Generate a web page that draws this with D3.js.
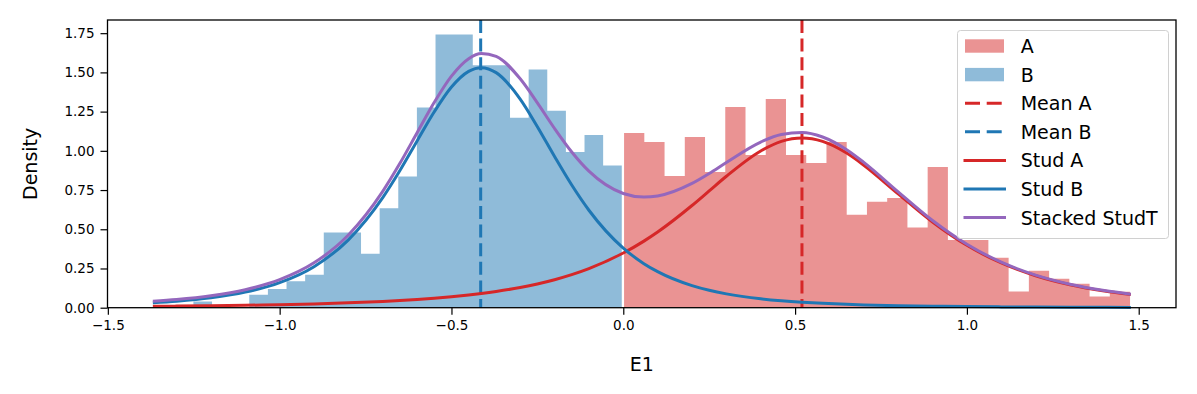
<!DOCTYPE html>
<html>
<head>
<meta charset="utf-8">
<script src="https://cdn.jsdelivr.net/npm/d3@7"></script>
<style>
  html, body { margin: 0; padding: 0; background: #fff; }
  text { font-family: "DejaVu Sans", sans-serif; }
</style>
</head>
<body>
<div id="chart"></div>
<script>
'use strict';

// histogram A : 25 equal bins between these edges (density)
var binRangeA = [0.0023, 1.4748];
var densityA = [1.114, 1.056, 0.840, 1.088, 0.865, 1.279, 0.974, 1.330, 0.974, 0.923,
                1.056, 0.592, 0.675, 0.700, 0.511, 0.897, 0.431, 0.431, 0.318, 0.104,
                0.235, 0.185, 0.153, 0.072, 0.102];

// histogram B : 25 equal bins
var binRangeB = [-1.3594, -0.0044];
var densityB = [0, 0, 0.040, 0, 0, 0.083, 0.120, 0.168, 0.210, 0.479,
                0.479, 0.344, 0.634, 0.836, 1.277, 1.742, 1.742, 1.546, 1.546, 1.211,
                1.519, 1.256, 0.993, 1.101, 0.906];

var meanA = 0.52;
var meanB = -0.415;

// fitted curves
var curveX = [-1.369, -1.3, -1.2, -1.1, -1.0, -0.9, -0.8, -0.7, -0.65, -0.6,
              -0.55, -0.5, -0.45, -0.413, -0.37, -0.3, -0.25, -0.2, -0.15, -0.1,
              0.0, 0.06, 0.1, 0.2, 0.25, 0.3, 0.4, 0.46, 0.52, 0.58,
              0.65, 0.7, 0.8, 0.9, 1.0, 1.1, 1.2, 1.3, 1.4, 1.477];
var studA = [0.0089, 0.0101, 0.0124, 0.0153, 0.0192, 0.0242, 0.0310, 0.0401, 0.0458, 0.0526,
             0.0605, 0.0699, 0.0811, 0.0907, 0.1035, 0.1290, 0.1516, 0.1786, 0.2108, 0.2492,
             0.3484, 0.4245, 0.4826, 0.6515, 0.7445, 0.8378, 0.9992, 1.0604, 1.082, 1.0604,
             0.9858, 0.9085, 0.7257, 0.5465, 0.3976, 0.2850, 0.2039, 0.1468, 0.1068, 0.0843];
var studB = [0.0318, 0.0418, 0.0635, 0.0992, 0.1594, 0.2616, 0.4327, 0.7016, 0.8743, 1.0627,
             1.2490, 1.4067, 1.5066, 1.53, 1.4985, 1.3301, 1.1539, 0.9637, 0.7818, 0.6213,
             0.3798, 0.2807, 0.2296, 0.1406, 0.1109, 0.0881, 0.0568, 0.0442, 0.0347, 0.0276,
             0.0213, 0.0179, 0.0127, 0.0093, 0.0069, 0.0052, 0.0040, 0.0031, 0.0024, 0.0020];

var xTicks = [-1.5, -1.0, -0.5, 0.0, 0.5, 1.0, 1.5];
var yTicks = [0, 0.25, 0.5, 0.75, 1.0, 1.25, 1.5, 1.75];
var legendLabels = ["A", "B", "Mean A", "Mean B", "Stud A", "Stud B", "Stacked StudT"];

var drawChart = function () {
    var red = "#d62728", blue = "#1f77b4", purple = "#9467bd";
    var redFill = "#ea9393", blueFill = "#8fbbd9";

    var width = 1197, height = 394;
    var plotLeft = 107.5, plotRight = 1176, plotTop = 20, plotBottom = 307.7;

    var svg = d3.select("#chart").append("svg")
        .attr("width", width)
        .attr("height", height);

    var x = d3.scaleLinear().domain([-1.501, 1.6085]).range([plotLeft, plotRight]);
    var y = d3.scaleLinear().domain([0, 1.834]).range([plotBottom, plotTop]);

    var histPoints = function (range, values) {
        var w = (range[1] - range[0]) / values.length;
        var pts = values.map(function (v, i) { return [range[0] + i * w, v]; });
        pts.push([range[1], values[values.length - 1]]);
        return pts;
    };

    var histArea = d3.area()
        .curve(d3.curveStepAfter)
        .x(function (d) { return x(d[0]); })
        .y0(y(0))
        .y1(function (d) { return y(d[1]); });

    svg.append("path")
        .attr("d", histArea(histPoints(binRangeA, densityA)))
        .style("fill", redFill);

    svg.append("path")
        .attr("d", histArea(histPoints(binRangeB, densityB)))
        .style("fill", blueFill);

    // mean lines
    [[meanA, red], [meanB, blue]].forEach(function (m) {
        svg.append("line")
            .attr("x1", x(m[0])).attr("x2", x(m[0]))
            .attr("y1", plotTop).attr("y2", plotBottom)
            .style("stroke", m[1])
            .style("stroke-width", 3)
            .style("stroke-dasharray", "13,5.6");
    });

    var line = d3.line()
        .curve(d3.curveMonotoneX)
        .x(function (d) { return x(d[0]); })
        .y(function (d) { return y(d[1]); });

    var stacked = studA.map(function (a, i) { return a + studB[i]; });

    [[studA, red], [studB, blue], [stacked, purple]].forEach(function (s) {
        svg.append("path")
            .attr("d", line(curveX.map(function (cx, i) { return [cx, s[0][i]]; })))
            .style("fill", "none")
            .style("stroke", s[1])
            .style("stroke-width", 3);
    });

    // axes
    var xAxis = svg.append("g")
        .attr("transform", "translate(0," + plotBottom + ")")
        .call(d3.axisBottom(x).tickValues(xTicks).tickFormat(d3.format(".1f"))
            .tickSize(7).tickPadding(6));
    var yAxis = svg.append("g")
        .attr("transform", "translate(" + plotLeft + ",0)")
        .call(d3.axisLeft(y).tickValues(yTicks).tickFormat(d3.format(".2f"))
            .tickSize(7).tickPadding(6));

    [xAxis, yAxis].forEach(function (g) {
        g.select(".domain").remove();
        g.selectAll("line").style("stroke", "#000").style("stroke-width", 1.2);
        g.selectAll("text")
            .style("font-family", "'DejaVu Sans', sans-serif")
            .style("font-size", "13.5px")
            .style("fill", "#000");
    });

    svg.append("rect")
        .attr("x", plotLeft).attr("y", plotTop)
        .attr("width", plotRight - plotLeft).attr("height", plotBottom - plotTop)
        .style("fill", "none")
        .style("stroke", "#000")
        .style("stroke-width", 1.3);

    svg.append("text")
        .attr("x", (plotLeft + plotRight) / 2)
        .attr("y", 371)
        .style("text-anchor", "middle")
        .style("font-size", "19px")
        .text("E1");

    svg.append("text")
        .attr("transform", "translate(37," + ((plotTop + plotBottom) / 2) + ") rotate(-90)")
        .style("text-anchor", "middle")
        .style("font-size", "19px")
        .text("Density");

    // legend
    var legend = svg.append("g");
    legend.append("rect")
        .attr("x", 957.5).attr("y", 30.5)
        .attr("width", 211).attr("height", 208)
        .attr("rx", 3)
        .style("fill", "#fff")
        .style("fill-opacity", 0.8)
        .style("stroke", "#d0d0d0")
        .style("stroke-width", 1);

    var legendStyles = [
        {kind: "patch", color: redFill},
        {kind: "patch", color: blueFill},
        {kind: "dash", color: red},
        {kind: "dash", color: blue},
        {kind: "line", color: red},
        {kind: "line", color: blue},
        {kind: "line", color: purple}
    ];

    legendLabels.forEach(function (label, i) {
        var cy = 46 + i * 28.6;
        var st = legendStyles[i];
        if (st.kind === "patch") {
            legend.append("rect")
                .attr("x", 965).attr("y", cy - 6.7)
                .attr("width", 39).attr("height", 13.4)
                .style("fill", st.color);
        } else {
            legend.append("line")
                .attr("x1", 963.5).attr("x2", 1006)
                .attr("y1", cy).attr("y2", cy)
                .style("stroke", st.color)
                .style("stroke-width", 3)
                .style("stroke-dasharray", st.kind === "dash" ? "15,6.7" : null)
                .style("stroke-dashoffset", st.kind === "dash" ? -1.5 : null);
        }
        legend.append("text")
            .attr("x", 1020.7)
            .attr("y", cy + 7)
            .style("font-size", "19px")
            .text(label);
    });
};

drawChart();
</script>
</body>
</html>
